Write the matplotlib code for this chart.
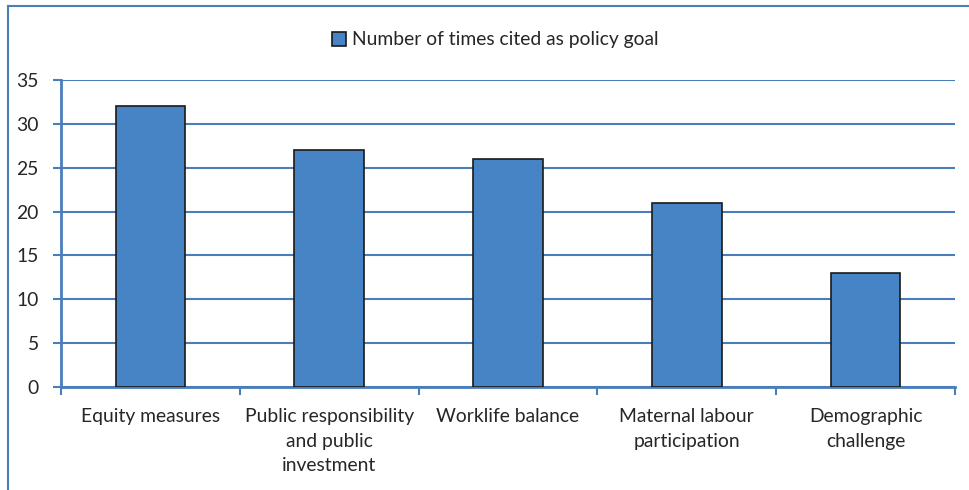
import matplotlib
matplotlib.use("Agg")
import matplotlib.pyplot as plt
from matplotlib.lines import Line2D
from matplotlib.patches import Patch

categories = ["Equity measures",
              "Public responsibility\nand public\ninvestment",
              "Worklife balance",
              "Maternal labour\nparticipation",
              "Demographic\nchallenge"]
times_cited = [32, 27, 26, 21, 13]
series_name = "Number of times cited as policy goal"

blue_line = "#4A7EBB"
bar_fill = "#4784C6"
text_col = "#262626"
fs = 13.9

plt.rcParams["font.family"] = ["Lato", "DejaVu Sans"]

fig = plt.figure(figsize=(9.69, 4.90), dpi=100)
ax = fig.add_axes([61 / 969, 1 - 387 / 490, (955 - 61) / 969, (387 - 80) / 490])

x = list(range(len(categories)))
ax.bar(x, times_cited, width=0.39, color=bar_fill, edgecolor="#1a1a1a",
       linewidth=1.2, zorder=3)

ax.set_xlim(-0.5, len(categories) - 0.5)
ax.set_ylim(0, 35)
ax.set_yticks(range(0, 36, 5))
ax.yaxis.grid(True, color=blue_line, linewidth=1.5, zorder=0)
ax.set_axisbelow(True)

ax.set_xticks([i - 0.5 for i in range(len(categories) + 1)])
ax.set_xticklabels([])
ax.set_xticks(x, minor=True)
ax.set_xticklabels(categories, minor=True, fontsize=fs, color=text_col,
                   linespacing=1.55)
ax.tick_params(axis="x", which="major", direction="out", length=6,
               color=blue_line, width=1.5)
ax.tick_params(axis="x", which="minor", length=0, pad=15)
ax.tick_params(axis="y", direction="out", length=6, color=blue_line,
               width=1.5, labelsize=fs, labelcolor=text_col, pad=10)

for side in ["top", "right"]:
    ax.spines[side].set_visible(False)
for side in ["left", "bottom"]:
    ax.spines[side].set_color(blue_line)
    ax.spines[side].set_linewidth(2)

handle = Patch(facecolor=bar_fill, edgecolor="#1a1a1a", linewidth=1.2)
fig.legend([handle], [series_name], loc="center",
           bbox_to_anchor=(495 / 969, 1 - 40 / 490), frameon=False,
           fontsize=fs, handlelength=0.75, handleheight=0.75,
           handletextpad=0.3, labelcolor=text_col)

# chart area frame
fig.add_artist(Line2D([7.5 / 969, 7.5 / 969], [0, 1 - 6.5 / 490],
                      transform=fig.transFigure, color=blue_line, linewidth=1.5))
fig.add_artist(Line2D([7.5 / 969, 1], [1 - 6.5 / 490, 1 - 6.5 / 490],
                      transform=fig.transFigure, color=blue_line, linewidth=1.5))

fig.savefig("out.png", dpi=100)
